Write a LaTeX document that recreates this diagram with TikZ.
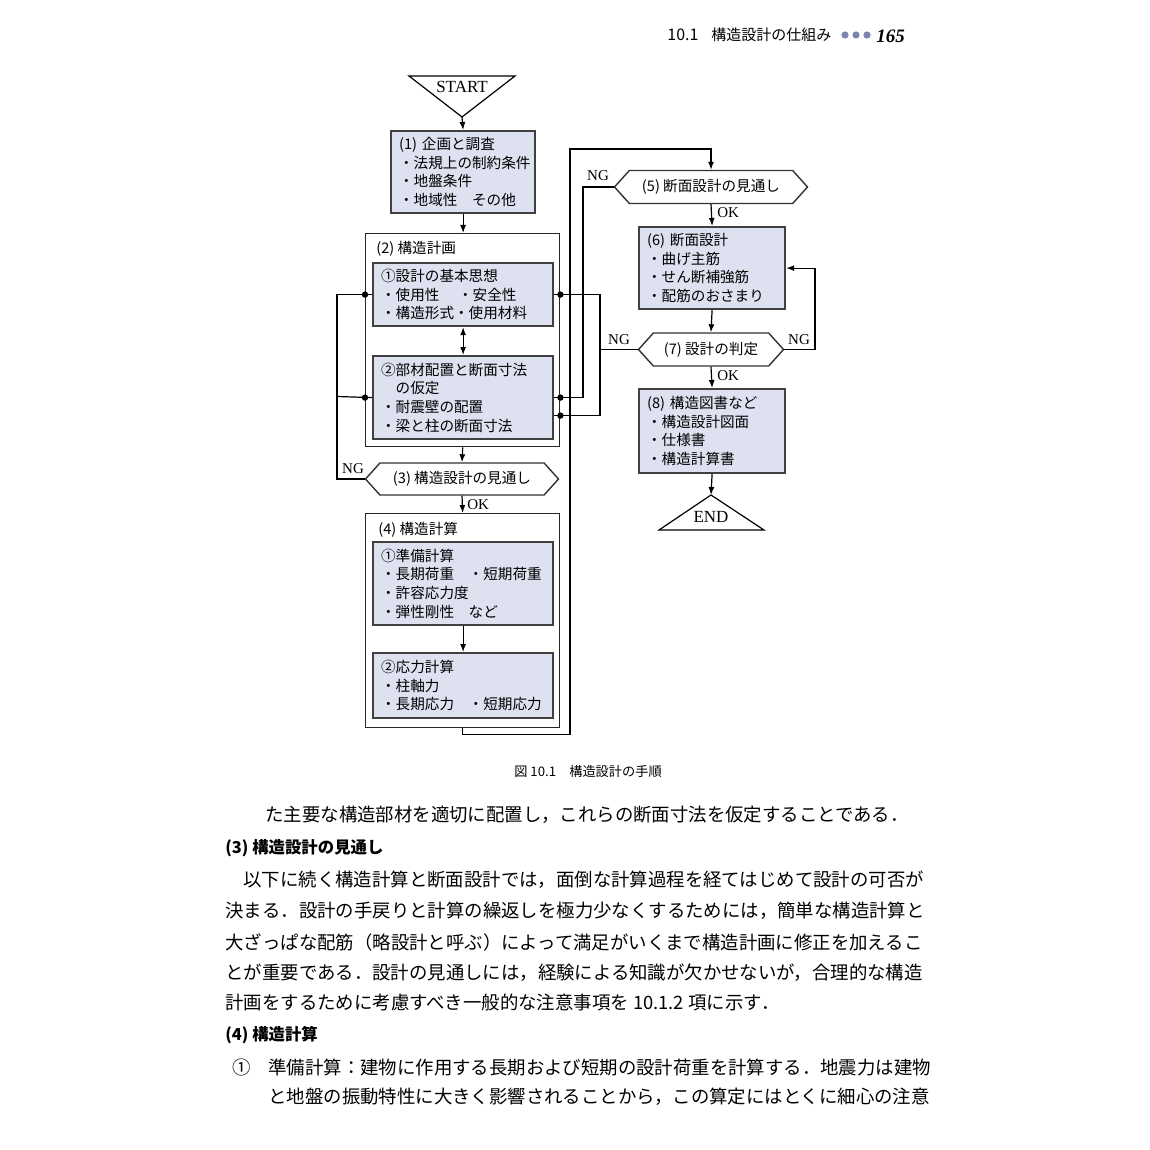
\documentclass[tikz,border=0pt]{standalone}
\usepackage{fontspec}
\setmainfont{Noto Sans CJK JP}
\newfontfamily\latinserif{Liberation Serif}
\usetikzlibrary{arrows.meta,shapes.symbols}
\definecolor{boxfill}{RGB}{221,225,240}
\definecolor{dotblue}{RGB}{120,135,170}
\newcommand\flowfont{\fontsize{7.3}{9.3}\selectfont}
\newcommand\bodyfont{\fontsize{9.2}{12}\selectfont}

\tikzset{
  pbox/.style={draw=black!75, line width=1.1pt, fill=boxfill, anchor=north west, align=left, inner xsep=4pt, inner ysep=0pt, font=\flowfont},
  outerbox/.style={draw=black!85, line width=0.7pt, anchor=north west, inner sep=0pt},
  hexa/.style={signal, signal to=east and west, signal pointer angle=96, draw=black!80, line width=0.7pt, fill=white, inner sep=0pt, font=\flowfont},
  flow/.style={line width=0.6pt},
  arr/.style={flow, -{Latex[length=4pt,width=3pt]}},
  lbl/.style={font=\latinserif\fontsize{7.5}{8}\selectfont, inner sep=0pt},
  term/.style={font=\latinserif\fontsize{8.5}{9}\selectfont, inner sep=0pt},
  bodyline/.style={anchor=west, inner sep=0pt, font=\bodyfont},
}

\begin{document}
\begin{tikzpicture}[x=0.5pt, y=-0.5pt]
\useasboundingbox[fill=white] (0,0) rectangle (1150,1150);

% running head
\node[anchor=west, inner sep=0pt, font=\fontsize{8}{9}\selectfont] (hnum) at (667,35) {10.1};
\node[anchor=west, inner sep=0pt, font=\fontsize{7.5}{9}\selectfont] (htitle) at (711,35) {構造設計の仕組み};
\foreach \x in {845,856,867}
  \fill[dotblue] (\x,35) circle (1.8pt);
\node[anchor=west, inner sep=0pt, font=\latinserif\bfseries\itshape\fontsize{9.5}{10}\selectfont] (hpage) at (876,36) {165};

% left column
\node[term] (start) at (462,87) {START};
\draw[flow] (409,76) -- (515,76) -- (462,117) coordinate (starttip) -- cycle;

\node[pbox, text width=64pt, minimum height=41pt] (b1) at (390,130) {(1)\ 企画と調査\\・法規上の制約条件\\・地盤条件\\・地域性　その他};

\node[outerbox, minimum width=97pt, minimum height=106.5pt] (f2) at (365,233) {};
\node[anchor=west, inner sep=0pt, font=\flowfont] (t2) at (376,249) {(2)\ 構造計画};
\node[pbox, text width=82pt, minimum height=31.5pt] (b21) at (372,262) {①設計の基本思想\\・使用性　\hspace{2pt}・安全性\\・構造形式・使用材料};
\node[pbox, text width=82pt, minimum height=41.5pt] (b22) at (372,355) {②部材配置と断面寸法\\　の仮定\\・耐震壁の配置\\・梁と柱の断面寸法};

\node[hexa, minimum width=96.5pt, minimum height=16pt] (h3) at (462,479) {(3)\ 構造設計の見通し};

\node[outerbox, minimum width=97pt, minimum height=107pt] (f4) at (365,513) {};
\node[anchor=west, inner sep=0pt, font=\flowfont] (t4) at (378,530) {(4)\ 構造計算};
\node[pbox, text width=82pt, minimum height=41.5pt] (b41) at (372,541) {①準備計算\\・長期荷重　・短期荷重\\・許容応力度\\・弾性剛性　など};
\node[pbox, text width=82pt, minimum height=32.5pt] (b42) at (372,652) {②応力計算\\・柱軸力\\・長期応力　・短期応力};

% right column
\node[hexa, minimum width=96.5pt, minimum height=16.5pt] (h5) at (711,187) {(5)\ 断面設計の見通し};
\node[pbox, text width=65pt, minimum height=41pt] (b6) at (638,226) {(6)\ 断面設計\\・曲げ主筋\\・せん断補強筋\\・配筋のおさまり};
\node[hexa, minimum width=72.5pt, minimum height=16.5pt] (h7) at (711,349.5) {(7)\ 設計の判定};
\node[pbox, text width=65pt, minimum height=42pt] (b8) at (638,388) {(8)\ 構造図書など\\・構造設計図面\\・仕様書\\・構造計算書};
\node[term] (end) at (711,517) {END};
\draw[flow] (711,495) coordinate (endtip) -- (764,530) -- (659,530) -- cycle;

% main flow
\draw[arr] (starttip) -- (b1.north);
\draw[arr] (b1.south) -- (b1.south |- f2.north);
\draw[flow, {Latex[length=4pt,width=3pt]}-{Latex[length=4pt,width=3pt]}] (b21.south) -- (b22.north);
\draw[arr] (f2.south) -- (h3.north);
\draw[arr] (h3.south) -- (f4.north);
\node[lbl, anchor=west] (ok3) at (467,505) {OK};
\draw[arr] (b41.south) -- (b42.north);
\draw[arr] (f4.south) -- ++(0,6) -| (570,149) -| (h5.north);
\draw[arr] (h5.south) -- (b6.north);
\node[lbl, anchor=west] (ok5) at (717,213) {OK};
\draw[arr] (b6.south) -- (h7.north);
\draw[arr] (h7.south) -- (b8.north);
\node[lbl, anchor=west] (ok7) at (717,376) {OK};
\draw[arr] (b8.south) -- (endtip);

% NG loops
\draw[flow] (h3.west) -- (337,479) |- (b21.west);
\draw[flow] (337,396.5) -- (b22.west);
\fill (f2.west |- b21.west) circle (1.6pt);
\fill (f2.west |- b22.west) circle (1.6pt);
\node[lbl] (ng3) at (353,469) {NG};

\draw[flow] (h5.west) -- (583,187) |- (b22.east);
\fill (f2.east |- b22.east) circle (1.6pt);
\node[lbl] (ng5) at (598,176) {NG};

\coordinate (b22lo) at ([yshift=-9pt]b22.east);
\draw[flow] (h7.west) -- (600,349.5) |- (b21.east);
\draw[flow] (600,349.5) |- (b22lo);
\fill (f2.east |- b21.east) circle (1.6pt);
\fill (f2.east |- b22lo) circle (1.6pt);
\node[lbl] (ng7l) at (619,340) {NG};

\draw[arr] (h7.east) -- (815,349.5) |- (b6.east);
\node[lbl] (ng7r) at (799,340) {NG};

% caption
\node[inner sep=0pt, font=\fontsize{6.6}{8}\selectfont] (cap) at (588,771) {図 10.1　構造設計の手順};

% body text
\node[bodyline] (p1) at (265,815) {た主要な構造部材を適切に配置し，これらの断面寸法を仮定することである．};
\node[bodyline, font=\bfseries\fontsize{8.2}{10}\selectfont] (s3) at (225,848) {(3) 構造設計の見通し};
\node[bodyline] (p2) at (243,880) {以下に続く構造計算と断面設計では，面倒な計算過程を経てはじめて設計の可否が};
\node[bodyline] (p3) at (225,911) {決まる．設計の手戻りと計算の繰返しを極力少なくするためには，簡単な構造計算と};
\node[bodyline] (p4) at (225,942) {大ざっぱな配筋（略設計と呼ぶ）によって満足がいくまで構造計画に修正を加えるこ};
\node[bodyline] (p5) at (225,973) {とが重要である．設計の見通しには，経験による知識が欠かせないが，合理的な構造};
\node[bodyline] (p6) at (225,1002) {計画をするために考慮すべき一般的な注意事項を 10.1.2 項に示す．};
\node[bodyline, font=\bfseries\fontsize{8.2}{10}\selectfont] (s4) at (225,1035) {(4) 構造計算};
\node[bodyline] (p7) at (232,1067) {①};
\node[bodyline] (p8) at (268,1067) {準備計算：建物に作用する長期および短期の設計荷重を計算する．地震力は建物};
\node[bodyline] (p9) at (268,1097) {と地盤の振動特性に大きく影響されることから，この算定にはとくに細心の注意};
\end{tikzpicture}
\end{document}
